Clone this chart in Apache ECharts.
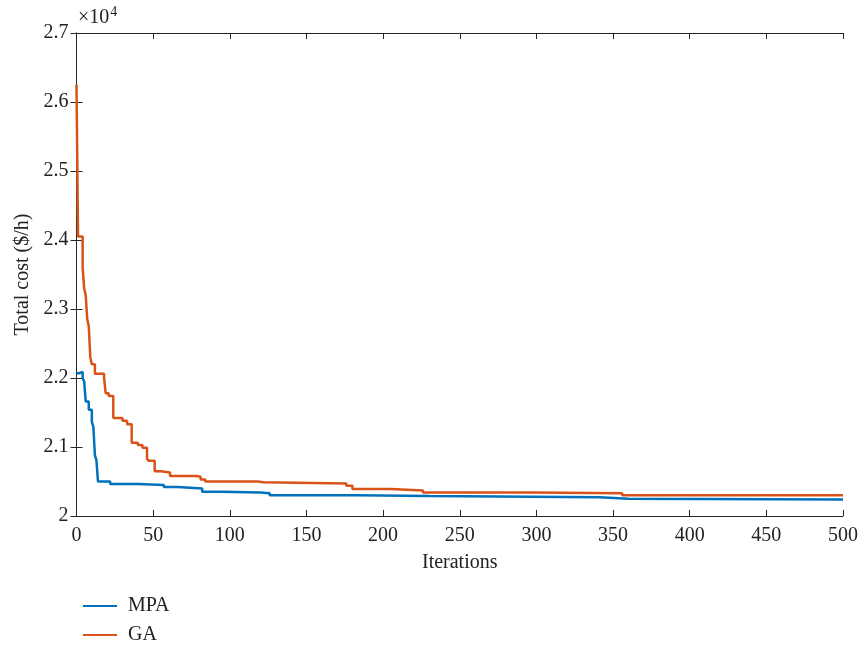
<!DOCTYPE html>
<html>
<head>
<meta charset="utf-8">
<script src="https://cdn.jsdelivr.net/npm/echarts@6/dist/echarts.min.js"></script>
<style>
  html, body { margin: 0; padding: 0; background: #fff; }
  #chart { width: 862px; height: 647px; }
</style>
</head>
<body>
<div id="chart"></div>
<script>
// Best total cost found so far at each iteration (breakpoints of the staircase)
const gaIter = [0, 1, 4, 5, 6, 7, 8, 9, 10, 12, 18, 19, 21, 24, 30, 33, 36, 40, 43, 46, 47, 51, 55, 61, 78, 81, 84, 118, 122, 176, 180, 205, 226, 297, 356, 500];
const gaCost = [26250, 24050, 23600, 23300, 23200, 22850, 22750, 22300, 22200, 22060, 22000, 21780, 21740, 21420, 21380, 21330, 21060, 21030, 20990, 20830, 20800, 20650, 20630, 20580, 20570, 20530, 20500, 20490, 20470, 20440, 20390, 20370, 20340, 20330, 20300, 20300];

const mpaIter = [0, 2, 4, 5, 6, 8, 10, 11, 12, 13, 14, 22, 40, 57, 66, 82, 95, 120, 126, 183, 230, 341, 360, 500];
const mpaCost = [22070, 22090, 22000, 21950, 21660, 21540, 21370, 21290, 20880, 20810, 20500, 20465, 20450, 20420, 20400, 20350, 20340, 20330, 20300, 20290, 20270, 20250, 20240, 20240];

const xTicks = { min: 0, max: 500, interval: 50 };
const yTicks = { min: 20000, max: 27000, interval: 1000 };

const seriesNames = ['MPA', 'GA'];
const seriesColors = ['#0072BD', '#D95319'];

const pairs = (xs, ys) => xs.map((x, i) => [x, ys[i]]);

const font = 'Liberation Serif';
const axisColor = '#262626';
const textColor = '#222';

const chart = echarts.init(document.getElementById('chart'));

const baseAxis = {
  axisLine: { show: true, lineStyle: { color: axisColor, width: 1 } },
  axisTick: { show: true, inside: true, length: 6, lineStyle: { color: axisColor } },
  splitLine: { show: false },
};

const legendItem = (name, top) => ({
  orient: 'vertical',
  left: 78, top: top,
  itemWidth: 34, itemHeight: 2,
  icon: 'rect',
  textStyle: { fontFamily: font, fontSize: 20, color: textColor, padding: [0, 0, 0, 6] },
  data: [name],
});

chart.setOption({
  animation: false,
  backgroundColor: '#fff',
  grid: { left: 76.5, right: 19, top: 33, bottom: 131, show: false },
  xAxis: [
    Object.assign({}, baseAxis, {
      type: 'value', position: 'bottom',
      min: xTicks.min, max: xTicks.max, interval: xTicks.interval,
      name: 'Iterations', nameLocation: 'middle', nameGap: 37,
      nameTextStyle: { fontFamily: font, fontSize: 20, color: textColor },
      axisLabel: { fontFamily: font, fontSize: 20, color: textColor, margin: 10 },
    }),
    Object.assign({}, baseAxis, {
      type: 'value', position: 'top',
      min: xTicks.min, max: xTicks.max, interval: xTicks.interval,
      axisLabel: { show: false },
    }),
  ],
  yAxis: [
    Object.assign({}, baseAxis, {
      type: 'value', position: 'left',
      min: yTicks.min, max: yTicks.max, interval: yTicks.interval,
      name: 'Total cost ($/h)', nameLocation: 'middle', nameGap: 43,
      nameTextStyle: { fontFamily: font, fontSize: 20, color: textColor },
      axisLabel: {
        fontFamily: font, fontSize: 20, color: textColor, margin: 8,
        formatter: v => String(+(v / 1e4).toFixed(1)),
      },
    }),
    Object.assign({}, baseAxis, {
      type: 'value', position: 'right',
      min: yTicks.min, max: yTicks.max, interval: yTicks.interval,
      axisLabel: { show: false },
    }),
  ],
  legend: [legendItem(seriesNames[0], 591), legendItem(seriesNames[1], 620)],
  graphic: [{
    type: 'text', left: 78, top: 5,
    style: {
      text: '{m|×10}{s|4}',
      rich: {
        m: { fontFamily: font, fontSize: 20, fill: textColor, verticalAlign: 'bottom' },
        s: { fontFamily: font, fontSize: 14, fill: textColor, verticalAlign: 'top', padding: [0, 0, 9, 1] },
      },
    },
  }],
  series: [
    {
      name: seriesNames[0], type: 'line', step: 'end', showSymbol: false,
      data: pairs(mpaIter, mpaCost),
      lineStyle: { color: seriesColors[0], width: 2.5 }, itemStyle: { color: seriesColors[0] },
      z: 3,
    },
    {
      name: seriesNames[1], type: 'line', step: 'end', showSymbol: false,
      data: pairs(gaIter, gaCost),
      lineStyle: { color: seriesColors[1], width: 2.5 }, itemStyle: { color: seriesColors[1] },
      z: 2,
    },
  ],
});
</script>
</body>
</html>
